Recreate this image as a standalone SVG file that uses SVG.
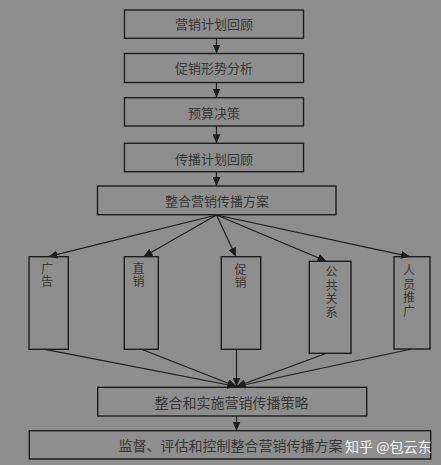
<svg xmlns="http://www.w3.org/2000/svg" width="441" height="465" viewBox="0 0 441 465">
<defs>
<style>
.box{fill:none;stroke:#1e1e1e;stroke-width:1.4}
.t{font-family:"Noto Sans CJK SC","Noto Sans CJK JP",sans-serif;font-size:13px;fill:#383838;text-anchor:middle}
.v{font-family:"Noto Sans CJK SC","Noto Sans CJK JP",sans-serif;font-size:12px;fill:#383838;writing-mode:vertical-rl;letter-spacing:1.6px}
.c{stroke:#1e1e1e;stroke-width:1.2;fill:none}
.wm{font-family:"Noto Sans CJK SC",sans-serif;font-size:14px;fill:#f4f4f4}
</style>
<marker id="ah" markerUnits="userSpaceOnUse" markerWidth="10" markerHeight="8" refX="9" refY="4" orient="auto">
<path d="M0,0 L9,4 L0,8 Z" fill="#1e1e1e"/>
</marker>
</defs>
<rect width="441" height="465" fill="#8e8e8e"/>
<g id="connectors">
<line class="c" x1="216.5" y1="38.5" x2="216.5" y2="53.5" marker-end="url(#ah)"/>
<line class="c" x1="216.5" y1="82.5" x2="216.5" y2="97.5" marker-end="url(#ah)"/>
<line class="c" x1="216.5" y1="126" x2="216.5" y2="143.3" marker-end="url(#ah)"/>
<line class="c" x1="216.5" y1="171.7" x2="216.5" y2="186" marker-end="url(#ah)"/>
<line class="c" x1="216.5" y1="215" x2="48.5" y2="256.7" marker-end="url(#ah)"/>
<line class="c" x1="216.5" y1="215" x2="143.5" y2="256.7" marker-end="url(#ah)"/>
<line class="c" x1="216.5" y1="215" x2="236" y2="256.7" marker-end="url(#ah)"/>
<line class="c" x1="216.5" y1="215" x2="326.5" y2="261.3" marker-end="url(#ah)"/>
<line class="c" x1="216.5" y1="215" x2="410" y2="256.7" marker-end="url(#ah)"/>
<line class="c" x1="45" y1="349.3" x2="236.5" y2="386.5" marker-end="url(#ah)"/>
<line class="c" x1="141.5" y1="349.3" x2="236.5" y2="386.5" marker-end="url(#ah)"/>
<line class="c" x1="236.5" y1="349.3" x2="236.5" y2="386.5" marker-end="url(#ah)"/>
<line class="c" x1="326.5" y1="353.3" x2="236.5" y2="386.5" marker-end="url(#ah)"/>
<line class="c" x1="411.5" y1="349" x2="236.5" y2="386.5" marker-end="url(#ah)"/>
<line class="c" x1="236.5" y1="416" x2="236.5" y2="430.7" marker-end="url(#ah)"/>
</g>
<g id="n1"><rect class="box" x="124.5" y="10" width="179" height="28.3"/><text class="t" x="214" y="29">营销计划回顾</text></g>
<g id="n2"><rect class="box" x="124.5" y="53.5" width="179" height="29"/><text class="t" x="214" y="72.8">促销形势分析</text></g>
<g id="n3"><rect class="box" x="124.5" y="97.7" width="179" height="28.3"/><text class="t" x="214" y="117.5">预算决策</text></g>
<g id="n4"><rect class="box" x="124.5" y="143.3" width="179" height="28.4"/><text class="t" x="214" y="163.5">传播计划回顾</text></g>
<g id="n5"><rect class="box" x="97.5" y="186" width="238.5" height="28.7"/><text class="t" x="217" y="205.5">整合营销传播方案</text></g>
<g id="n6"><rect class="box" x="29" y="256.7" width="39.3" height="92.6"/><text class="v" x="47" y="262">广告</text></g>
<g id="n7"><rect class="box" x="124.3" y="256.7" width="34" height="92.6"/><text class="v" x="138.5" y="262">直销</text></g>
<g id="n8"><rect class="box" x="221.3" y="256.7" width="39.4" height="92.6"/><text class="v" x="240.5" y="263">促销</text></g>
<g id="n9"><rect class="box" x="309.3" y="261.3" width="41.7" height="92"/><text class="v" x="331.5" y="265.7">公共关系</text></g>
<g id="n10"><rect class="box" x="394" y="256.7" width="36" height="92.3"/><text class="v" x="409" y="264.5">人员推广</text></g>
<g id="n11"><rect class="box" x="97.7" y="387.3" width="269" height="28.7"/><text class="t" x="231.5" y="407.5" style="font-size:14px">整合和实施营销传播策略</text></g>
<g id="n12"><rect class="box" x="29.3" y="430.7" width="401.4" height="28.3"/><text class="t" x="230.5" y="451" style="font-size:14px">监督、评估和控制整合营销传播方案</text></g>
<text class="wm" x="345" y="451.5">知乎 @包云东</text>
</svg>
